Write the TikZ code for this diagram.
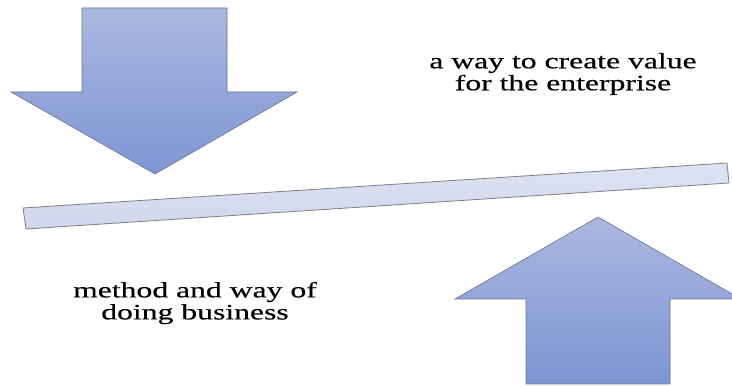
\documentclass[tikz,border=0pt]{standalone}
\usepackage{fontspec}
\setmainfont{Liberation Serif}
\newfontfamily\capfont[FakeStretch=1.44, FakeBold=0.4]{Liberation Serif}
\usetikzlibrary{positioning}
\definecolor{arrowtop}{RGB}{170,183,224}
\definecolor{arrowbottom}{RGB}{126,149,211}
\definecolor{arrowline}{RGB}{105,115,140}
\definecolor{beamfill}{RGB}{208,215,236}
\definecolor{beamlight}{RGB}{222,227,242}
\definecolor{beamline}{RGB}{125,125,130}
\tikzset{
    bigarrow/.style={draw=arrowline, line width=0.6pt, top color=arrowtop, bottom color=arrowbottom, line join=miter},
    beam/.style={draw=beamline, line width=0.8pt, top color=beamlight, bottom color=beamfill},
    caption/.style={align=center, font=\capfont\fontsize{22}{22}\selectfont, inner sep=0pt},
}
\begin{document}
\begin{tikzpicture}[x=1pt, y=-1pt]
    \useasboundingbox (0,0) rectangle (732,387);
    \clip (0,0) rectangle (732,387);
    % pressure from above
    \path[bigarrow] (82,8) -- (227,8) -- (227,92) -- (297,92) -- (155,174) -- (11,92) -- (82,92) -- cycle;
    % the tilted beam
    \path[beam] (23,208) -- (727,163) -- (729,183) -- (26,229) -- cycle;
    % push from below
    \path[bigarrow] (526,384) -- (670,384) -- (670,299) -- (741,299) -- (598,217) -- (455,299) -- (526,299) -- cycle;
    \node[caption] (valuelabel) at (563,74) {a way to create value\\for the enterprise};
    \node[caption] (methodlabel) at (195,303) {method and way of\\doing business};
\end{tikzpicture}
\end{document}
